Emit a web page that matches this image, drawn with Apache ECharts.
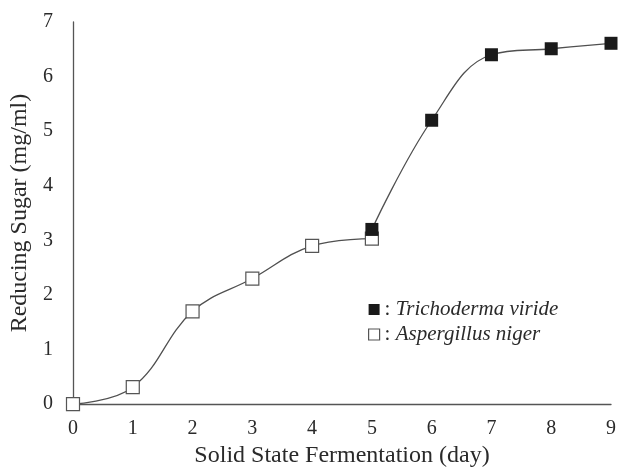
<!DOCTYPE html>
<html>
<head>
<meta charset="utf-8">
<script src="https://cdn.jsdelivr.net/npm/echarts@6/dist/echarts.min.js"></script>
<style>
  html, body { margin: 0; padding: 0; background: #fff; }
  #main { width: 619px; height: 473px; }
</style>
</head>
<body>
<div id="main"></div>
<script>
// A. niger (open squares), days 0-5
var nigerDays = [0, 1, 2, 3, 4, 5]
var nigerSugar = [0, 0.31, 1.7, 2.3, 2.9, 3.03]
// T. viride (filled squares), days 5-9
var virideDays = [5, 6, 7, 8, 9]
var virideSugar = [3.2, 5.2, 6.4, 6.51, 6.61]

var serif = 'Liberation Serif'
var lineColor = '#505050'
var textColor = '#2a2a2a'

function pairs(xs, ys) {
  return xs.map(function (x, i) { return [x, ys[i]] })
}

var myChart = echarts.init(document.getElementById('main'))
var option = {
  animation: false,
  textStyle: { fontFamily: serif },
  grid: { left: 73, right: 8, top: 22, bottom: 62 },
  legend: {
    orient: 'vertical',
    left: 363,
    top: 294,
    itemWidth: 11,
    itemHeight: 11,
    itemGap: 4,
    data: [
      { name: 'Trichoderma viride', icon: 'rect', itemStyle: { color: '#1a1a1a', borderWidth: 0 } },
      { name: 'Aspergillus niger', icon: 'rect', itemStyle: { color: '#fff', borderColor: '#555', borderWidth: 1.2 } }
    ],
    formatter: function (name) {
      return ': {it|' + name + '}'
    },
    textStyle: {
      fontFamily: serif,
      fontSize: 21,
      color: textColor,
      rich: {
        it: { fontFamily: serif, fontSize: 21, fontStyle: 'italic', color: textColor }
      }
    }
  },
  xAxis: {
    type: 'value',
    min: 0,
    max: 9,
    interval: 1,
    name: 'Solid State Fermentation (day)',
    nameLocation: 'middle',
    nameGap: 39,
    nameTextStyle: { fontFamily: serif, fontSize: 24, color: textColor },
    axisLine: { lineStyle: { color: '#555', width: 1.3 } },
    axisTick: { show: false },
    splitLine: { show: false },
    axisLabel: { fontFamily: serif, fontSize: 20, color: textColor, margin: 15 }
  },
  yAxis: {
    type: 'value',
    min: 0,
    max: 7,
    interval: 1,
    name: 'Reducing Sugar (mg/ml)',
    nameLocation: 'middle',
    nameGap: 35,
    nameTextStyle: { fontFamily: serif, fontSize: 24, color: textColor },
    axisLine: { show: true, lineStyle: { color: '#555', width: 1.3 } },
    axisTick: { show: false },
    splitLine: { show: false },
    axisLabel: { fontFamily: serif, fontSize: 20, color: textColor, margin: 20 }
  },
  series: [{
    name: 'Aspergillus niger',
    type: 'line',
    smooth: 0.4,
    symbol: 'rect',
    symbolSize: 13,
    lineStyle: { color: lineColor, width: 1.3 },
    itemStyle: { color: '#fff', borderColor: '#555', borderWidth: 1.2 },
    data: pairs(nigerDays, nigerSugar)
  }, {
    name: 'Trichoderma viride',
    type: 'line',
    smooth: 0.4,
    symbol: 'rect',
    symbolSize: 13,
    lineStyle: { color: lineColor, width: 1.3 },
    itemStyle: { color: '#1a1a1a', borderWidth: 0 },
    data: pairs(virideDays, virideSugar)
  }]
}
myChart.setOption(option)
</script>
</body>
</html>
